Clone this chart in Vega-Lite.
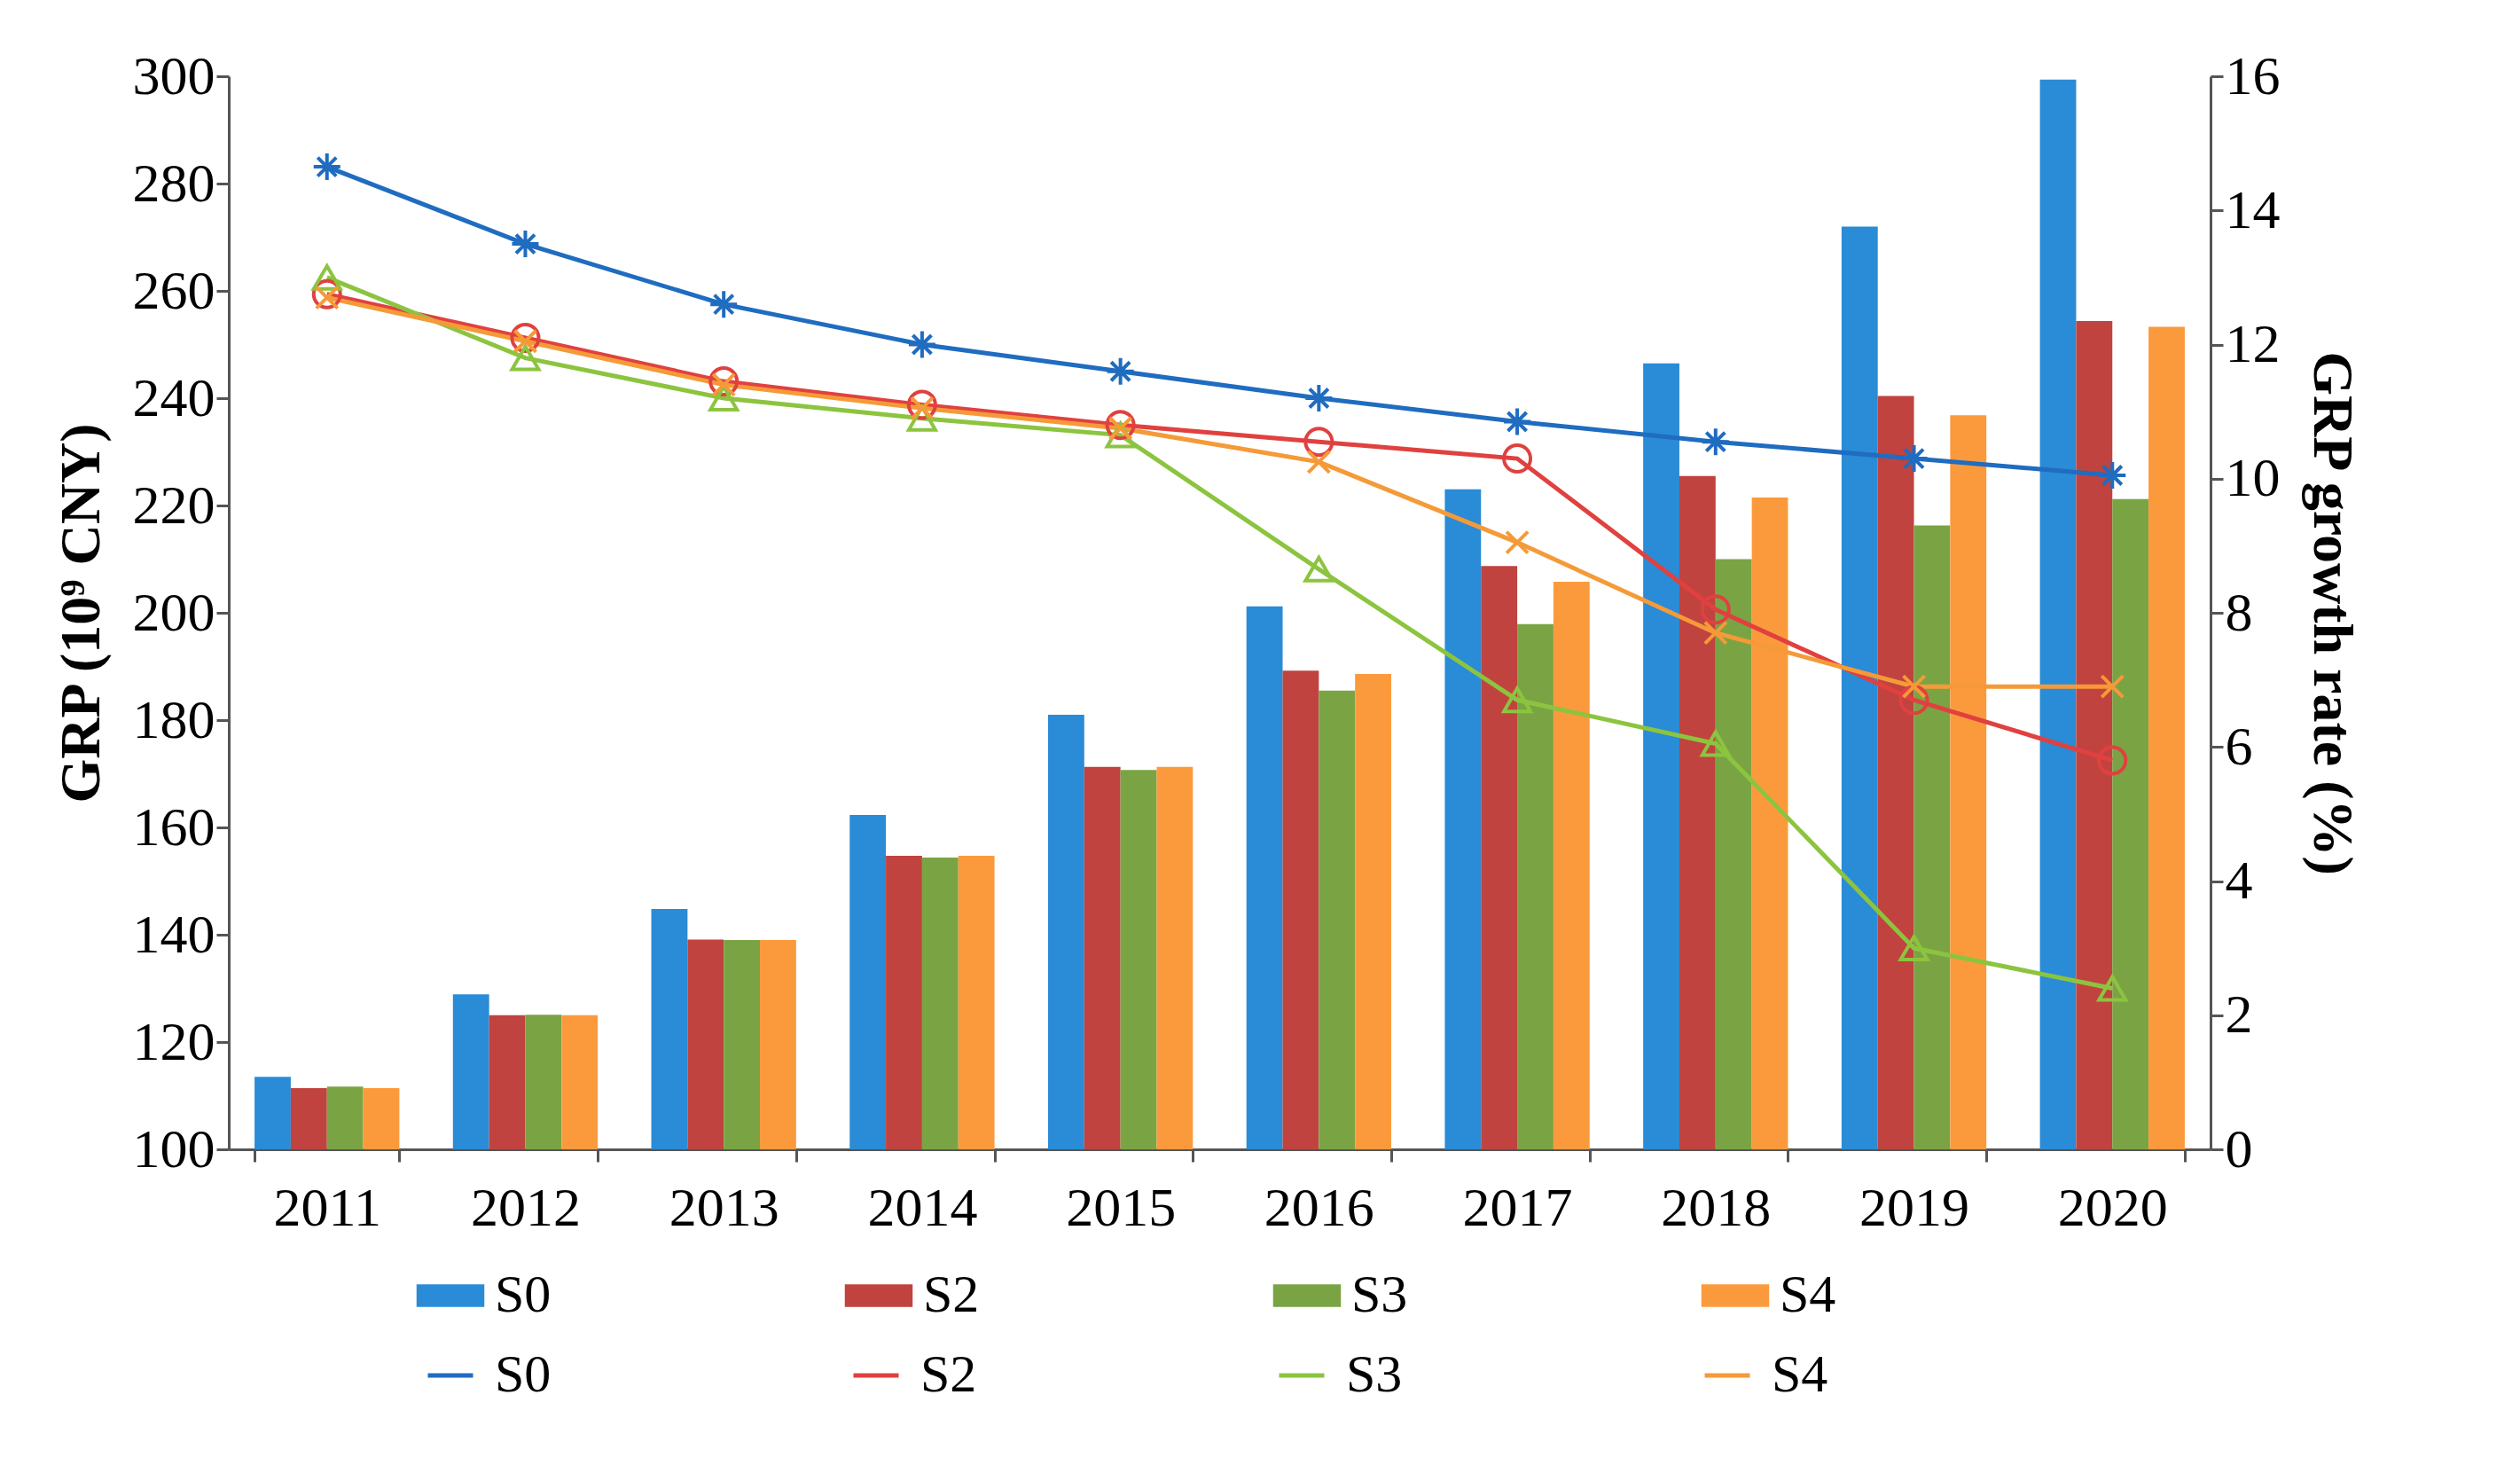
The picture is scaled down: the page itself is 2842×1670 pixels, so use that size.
{
  "$schema": "https://vega.github.io/schema/vega-lite/v6.json",
  "width": 2235,
  "height": 1210,
  "padding": {"left": 60, "top": 55, "right": 60, "bottom": 20},
  "background": "white",
  "data": {
    "values": [
      {"year": "2011", "scenario": "S0", "grp": 113.5, "rate": 14.65},
      {"year": "2011", "scenario": "S2", "grp": 111.4, "rate": 12.75},
      {"year": "2011", "scenario": "S3", "grp": 111.7, "rate": 13.0},
      {"year": "2011", "scenario": "S4", "grp": 111.4, "rate": 12.7},
      {"year": "2012", "scenario": "S0", "grp": 128.9, "rate": 13.5},
      {"year": "2012", "scenario": "S2", "grp": 125.0, "rate": 12.1},
      {"year": "2012", "scenario": "S3", "grp": 125.1, "rate": 11.8},
      {"year": "2012", "scenario": "S4", "grp": 125.0, "rate": 12.05},
      {"year": "2013", "scenario": "S0", "grp": 144.8, "rate": 12.6},
      {"year": "2013", "scenario": "S2", "grp": 139.1, "rate": 11.45},
      {"year": "2013", "scenario": "S3", "grp": 139.0, "rate": 11.2},
      {"year": "2013", "scenario": "S4", "grp": 139.0, "rate": 11.4},
      {"year": "2014", "scenario": "S0", "grp": 162.3, "rate": 12.0},
      {"year": "2014", "scenario": "S2", "grp": 154.7, "rate": 11.1},
      {"year": "2014", "scenario": "S3", "grp": 154.4, "rate": 10.9},
      {"year": "2014", "scenario": "S4", "grp": 154.7, "rate": 11.05},
      {"year": "2015", "scenario": "S0", "grp": 181.0, "rate": 11.6},
      {"year": "2015", "scenario": "S2", "grp": 171.3, "rate": 10.8},
      {"year": "2015", "scenario": "S3", "grp": 170.7, "rate": 10.65},
      {"year": "2015", "scenario": "S4", "grp": 171.3, "rate": 10.75},
      {"year": "2016", "scenario": "S0", "grp": 201.2, "rate": 11.2},
      {"year": "2016", "scenario": "S2", "grp": 189.2, "rate": 10.55},
      {"year": "2016", "scenario": "S3", "grp": 185.5, "rate": 8.65},
      {"year": "2016", "scenario": "S4", "grp": 188.6, "rate": 10.25},
      {"year": "2017", "scenario": "S0", "grp": 223.0, "rate": 10.85},
      {"year": "2017", "scenario": "S2", "grp": 208.7, "rate": 10.3},
      {"year": "2017", "scenario": "S3", "grp": 197.9, "rate": 6.7},
      {"year": "2017", "scenario": "S4", "grp": 205.8, "rate": 9.05},
      {"year": "2018", "scenario": "S0", "grp": 246.5, "rate": 10.55},
      {"year": "2018", "scenario": "S2", "grp": 225.5, "rate": 8.05},
      {"year": "2018", "scenario": "S3", "grp": 210.0, "rate": 6.05},
      {"year": "2018", "scenario": "S4", "grp": 221.5, "rate": 7.7},
      {"year": "2019", "scenario": "S0", "grp": 272.0, "rate": 10.3},
      {"year": "2019", "scenario": "S2", "grp": 240.4, "rate": 6.7},
      {"year": "2019", "scenario": "S3", "grp": 216.3, "rate": 3.0},
      {"year": "2019", "scenario": "S4", "grp": 236.8, "rate": 6.9},
      {"year": "2020", "scenario": "S0", "grp": 299.4, "rate": 10.05},
      {"year": "2020", "scenario": "S2", "grp": 254.4, "rate": 5.8},
      {"year": "2020", "scenario": "S3", "grp": 221.2, "rate": 2.4},
      {"year": "2020", "scenario": "S4", "grp": 253.3, "rate": 6.9}
    ]
  },
  "encoding": {
    "x": {
      "field": "year",
      "type": "ordinal",
      "title": null,
      "scale": {"paddingInner": 0.27, "paddingOuter": 0.13},
      "axis": {"labelAngle": 0, "labelPadding": 22, "tickSize": 14, "domainWidth": 3, "tickWidth": 3, "tickBand": "extent"}
    }
  },
  "layer": [
    {
      "mark": {"type": "bar", "clip": true},
      "encoding": {
        "xOffset": {"field": "scenario", "type": "nominal", "scale": {"paddingInner": 0}},
        "y": {
          "field": "grp",
          "type": "quantitative",
          "title": "GRP (10⁹ CNY)",
          "scale": {"domain": [100, 300]},
          "axis": {"tickCount": 10, "grid": false, "titlePadding": 25, "domainWidth": 3, "tickWidth": 3, "tickSize": 14}
        },
        "color": {
          "field": "scenario",
          "type": "nominal",
          "title": null,
          "scale": {"domain": ["S0", "S2", "S3", "S4"], "range": ["#2a8bd6", "#c0433f", "#7aa444", "#fb9a3c"]},
          "legend": {
            "orient": "none", "legendX": 220, "legendY": 1345,
            "direction": "horizontal", "columns": 4,
            "symbolType": "M-1.5,-0.5L1.5,-0.5L1.5,0.5L-1.5,0.5Z", "symbolSize": 2600,
            "columnPadding": 330
          }
        }
      }
    },
    {
      "layer": [
        {
          "mark": {"type": "line", "strokeWidth": 5},
          "encoding": {
            "y": {"field": "rate", "type": "quantitative"},
            "color": {"field": "scenario", "type": "nominal"}
          }
        },
        {
          "mark": {"type": "point", "filled": false, "strokeWidth": 4, "size": 900, "opacity": 1},
          "encoding": {
            "y": {"field": "rate", "type": "quantitative"},
            "color": {"field": "scenario", "type": "nominal"},
            "shape": {
              "field": "scenario",
              "type": "nominal",
              "legend": null,
              "scale": {
                "domain": ["S0", "S2", "S3", "S4"],
                "range": [
                  "M-1,0L1,0M0,-1L0,1M-0.7,-0.7L0.7,0.7M-0.7,0.7L0.7,-0.7",
                  "circle",
                  "triangle-up",
                  "M-0.8,-0.8L0.8,0.8M-0.8,0.8L0.8,-0.8"
                ]
              }
            }
          }
        }
      ],
      "encoding": {
        "y": {
          "field": "rate",
          "type": "quantitative",
          "title": "GRP growth rate (%)",
          "scale": {"domain": [0, 16]},
          "axis": {"orient": "right", "tickCount": 8, "grid": false, "titlePadding": 25, "domainWidth": 3, "tickWidth": 3, "tickSize": 14}
        },
        "color": {
          "field": "scenario",
          "type": "nominal",
          "title": null,
          "scale": {"domain": ["S0", "S2", "S3", "S4"], "range": ["#1f6cc0", "#e0413f", "#8cc43f", "#f59a38"]},
          "legend": {
            "orient": "none", "legendX": 220, "legendY": 1435,
            "direction": "horizontal", "columns": 4,
            "symbolType": "stroke", "symbolStrokeWidth": 5, "symbolSize": 2600,
            "columnPadding": 330
          }
        }
      }
    }
  ],
  "resolve": {"scale": {"y": "independent", "color": "independent", "xOffset": "independent"}},
  "config": {
    "font": "Liberation Serif",
    "view": {"stroke": null},
    "axis": {
      "labelFont": "Liberation Serif",
      "titleFont": "Liberation Serif",
      "labelFontSize": 62,
      "titleFontSize": 64,
      "titleFontWeight": "bold",
      "labelColor": "black",
      "titleColor": "black",
      "domainColor": "#555",
      "tickColor": "#555"
    },
    "legend": {"labelFont": "Liberation Serif", "labelFontSize": 60, "labelColor": "black", "labelOffset": 20}
  }
}
